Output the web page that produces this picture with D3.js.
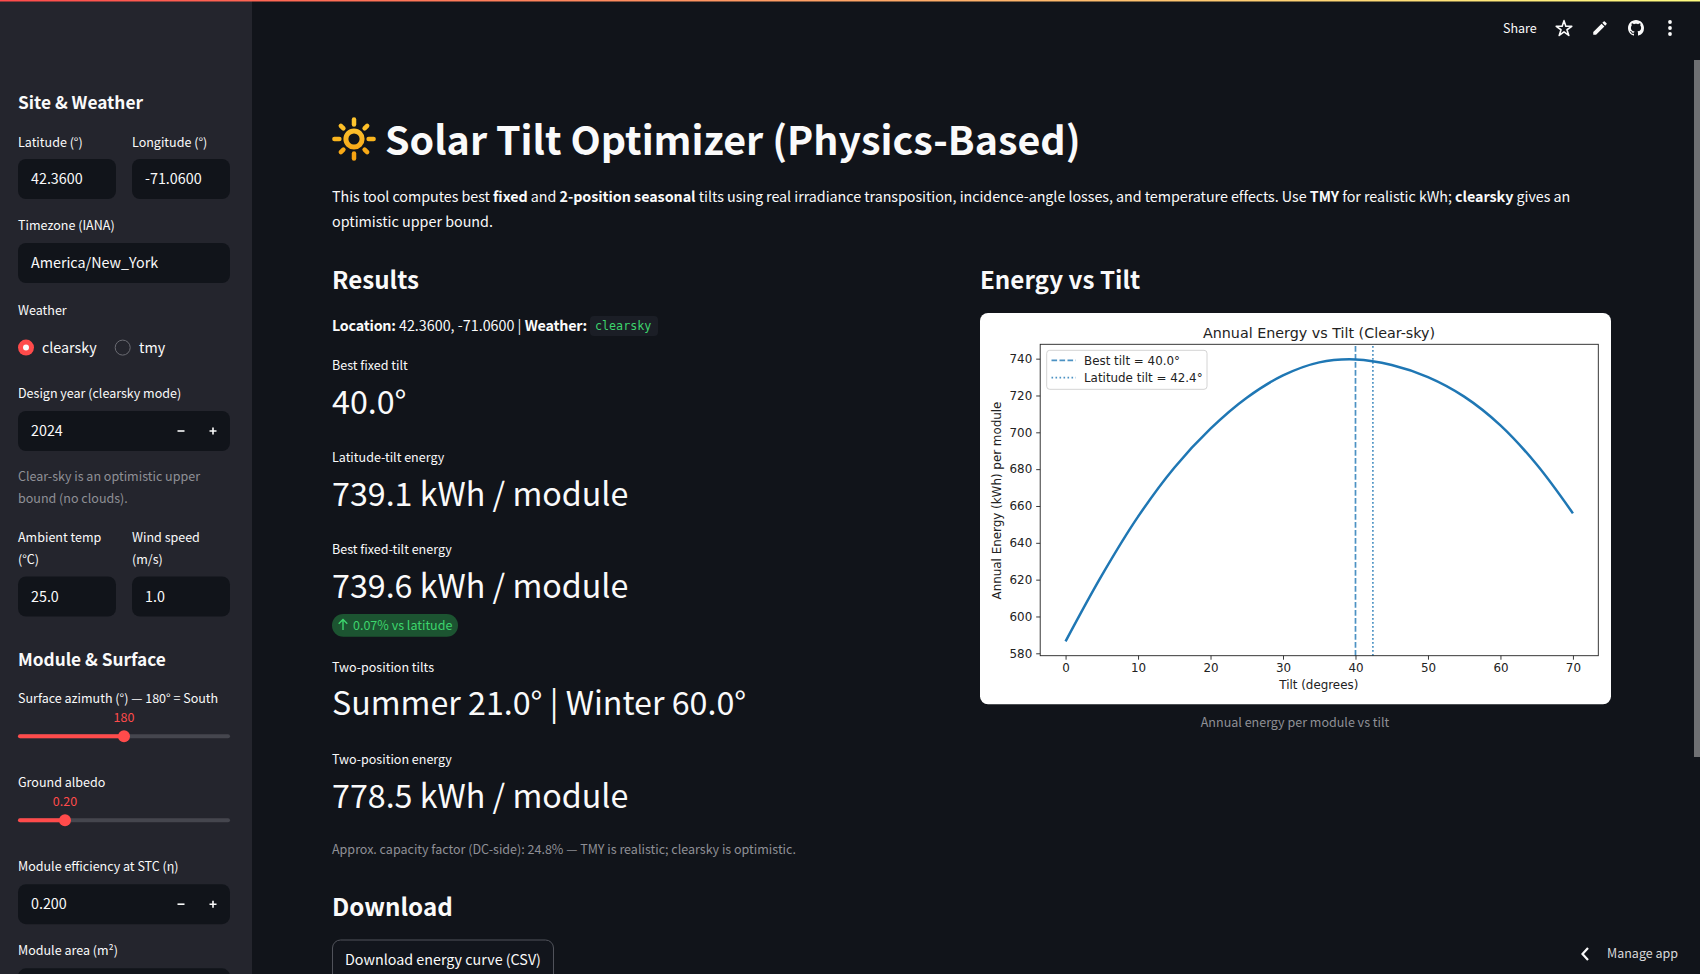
<!DOCTYPE html>
<html><head><meta charset="utf-8">
<script src="https://cdn.jsdelivr.net/npm/d3@7/dist/d3.min.js"></script>
<style>
html,body{margin:0;padding:0;background:#11141a;overflow:hidden}
svg{display:block}
text{white-space:pre}
</style></head><body>
<svg id="page" width="1700" height="974" xmlns="http://www.w3.org/2000/svg"></svg>
<script>
// ---- chart data ----
const tilts = [0,5,10,15,20,25,30,35,40,45,50,55,60,65,70];
const energies = [586.5,622.3,654.2,680.8,702.0,718.8,730.9,738.0,739.6,736.6,730.0,719.4,703.8,682.5,656.0];
const xTicks = [0,10,20,30,40,50,60,70];
const yTicks = [580,600,620,640,660,680,700,720,740];
const bestTilt = 40.0;
const latitudeTilt = 42.4;
const xDomain = [-3.5,73.5];
const yDomain = [578.7,747.8];
const chartTitle = "Annual Energy vs Tilt (Clear-sky)";
const xLabel = "Tilt (degrees)";
const yLabel = "Annual Energy (kWh) per module";
const legendLabels = ["Best tilt = 40.0°","Latitude tilt = 42.4°"];

// ---- page text ----
const appTitle = "Solar Tilt Optimizer (Physics-Based)";
const introLine1 = [["This tool computes best ",0],["fixed",1],[" and ",0],["2-position seasonal",1],[" tilts using real irradiance transposition, incidence-angle losses, and temperature effects. Use ",0],["TMY",1],[" for realistic kWh; ",0],["clearsky",1],[" gives an",0]];
const introLine2 = "optimistic upper bound.";
const locationLine = [["Location:",1],[" 42.3600, -71.0600 | ",0],["Weather:",1]];
const metricLabels = ["Best fixed tilt","Latitude-tilt energy","Best fixed-tilt energy","Two-position tilts","Two-position energy"];
const metricValues = ["40.0°","739.1 kWh / module","739.6 kWh / module","Summer 21.0° | Winter 60.0°","778.5 kWh / module"];
const deltaText = "0.07% vs latitude";
const captionText = "Approx. capacity factor (DC-side): 24.8% — TMY is realistic; clearsky is optimistic.";

const SANS = '"Noto Sans CJK SC","Noto Sans",sans-serif';
const MPL = '"DejaVu Sans",sans-serif';
const WHITE = "#fafafa", GREY = "#8f9096", RED = "#ff4b4b", INPUT = "#11141a";
const K = 0.895; // Noto CJK latin -> Source Sans metric ratio

const svg = d3.select("#page");
function T(g,x,y,s,o={}){
  const fs = o.ff ? (o.fs||14) : (o.fs||14)*K;
  const t = g.append("text").attr("x",x).attr("y",y)
    .attr("font-family",o.ff||SANS).attr("font-size",fs)
    .attr("font-weight",o.w||400).attr("fill",o.c||WHITE)
    .attr("text-anchor",o.a||"start");
  if(o.ls) t.attr("letter-spacing",o.ls);
  if(Array.isArray(s)) s.forEach(p=>{
    const sp=t.append("tspan").attr("font-weight",p[1]?700:400).text(p[0]);
    if(p[1]&&o.bls) sp.attr("letter-spacing",o.bls);
  });
  else t.text(s);
  return t;
}
function R(g,x,y,w,h,r,f,o={}){
  const e=g.append("rect").attr("x",x).attr("y",y).attr("width",w).attr("height",h).attr("rx",r).attr("fill",f);
  if(o.s) e.attr("stroke",o.s).attr("stroke-width",o.sw||1);
  return e;
}

// backgrounds
R(svg,0,0,1700,974,0,"#11141a");
R(svg,0,0,252,974,0,"#24252d");
const defs = svg.append("defs");
const lg = defs.append("linearGradient").attr("id","deco");
lg.append("stop").attr("offset","0%").attr("stop-color","#ff4b4b");
lg.append("stop").attr("offset","100%").attr("stop-color","#fffd80");
const sg = defs.append("linearGradient").attr("id","sunG").attr("gradientUnits","userSpaceOnUse")
  .attr("x1",0).attr("y1",-22).attr("x2",0).attr("y2",22);
sg.append("stop").attr("offset","0%").attr("stop-color","#ffcf3a");
sg.append("stop").attr("offset","100%").attr("stop-color","#f59a0a");
R(svg,0,0,1700,1.5,0,"url(#deco)");
R(svg,1694,60,6,697,0,"#6f7073");

// ---- sidebar ----
const side = svg.append("g");
function input(x,y,w,val,step){
  R(side,x,y,w,40,8,INPUT);
  T(side,x+13,y+25,val,{fs:16});
  if(step){
    side.append("path").attr("d",`M${x+159.5} ${y+20}h7`).attr("stroke",WHITE).attr("stroke-width",1.6);
    side.append("path").attr("d",`M${x+191.5} ${y+20}h7M${x+195} ${y+16.5}v7`).attr("stroke",WHITE).attr("stroke-width",1.6);
  }
}
function slider(cx,y,lab,labY){
  R(side,18,y-2,212,4,2,"#45464e");
  R(side,18,y-2,cx-18,4,2,RED);
  side.append("circle").attr("cx",cx).attr("cy",y).attr("r",6).attr("fill",RED);
  T(side,cx,labY,lab,{c:RED,a:"middle"});
}
const H3 = 19.3, H2 = 27;
T(side,18,109,"Site & Weather",{fs:H3,w:700});
T(side,18,146.8,"Latitude (°)");
T(side,132,146.8,"Longitude (°)");
input(18,159,98,"42.3600");
input(132,159,98,"-71.0600");
T(side,18,230.3,"Timezone (IANA)");
input(18,243,212,"America/New_York");
T(side,18,314.7,"Weather");
side.append("circle").attr("cx",26).attr("cy",347.6).attr("r",8).attr("fill",RED);
side.append("circle").attr("cx",26).attr("cy",347.6).attr("r",3).attr("fill",WHITE);
T(side,42,352.6,"clearsky",{fs:16});
side.append("circle").attr("cx",122.7).attr("cy",347.6).attr("r",7.5).attr("fill","none").attr("stroke","#6a6b72").attr("stroke-width",1);
T(side,139,352.6,"tmy",{fs:16});
T(side,18,398.2,"Design year (clearsky mode)");
input(18,411,212,"2024",true);
T(side,18,481.2,"Clear-sky is an optimistic upper",{c:GREY});
T(side,18,503.2,"bound (no clouds).",{c:GREY});
T(side,18,542.2,"Ambient temp");
T(side,18,564.2,"(°C)");
T(side,132,542.2,"Wind speed");
T(side,132,564.2,"(m/s)");
input(18,576.5,98,"25.0");
input(132,576.5,98,"1.0");
T(side,18,666,"Module & Surface",{fs:H3,w:700});
T(side,18,703.2,"Surface azimuth (°) — 180° = South");
slider(124,736.2,"180",722);
T(side,18,787.2,"Ground albedo");
slider(65,820.2,"0.20",806);
T(side,18,871.2,"Module efficiency at STC (η)");
input(18,884.2,212,"0.200",true);
T(side,18,955.2,"Module area (m²)");
R(side,18,968.3,212,40,8,INPUT);

// ---- header ----
const head = svg.append("g");
T(head,1503,32.8,"Share");
head.append("path").attr("transform","translate(1564,28.8)").attr("d",d3.symbol(d3.symbolStar,75)())
  .attr("fill","none").attr("stroke",WHITE).attr("stroke-width",1.6).attr("stroke-linejoin","round");
head.append("path").attr("transform","translate(1591,19) scale(.75)")
  .attr("d","M3 17.25V21h3.75L17.81 9.94l-3.75-3.75L3 17.25zM20.71 7.04a1 1 0 000-1.41l-2.34-2.34a1 1 0 00-1.41 0l-1.83 1.83 3.75 3.75 1.83-1.83z").attr("fill",WHITE);
head.append("path").attr("transform","translate(1628,20)")
  .attr("d","M8 0C3.58 0 0 3.58 0 8c0 3.54 2.29 6.53 5.47 7.59.4.07.55-.17.55-.38 0-.19-.01-.82-.01-1.49-2.01.37-2.53-.49-2.69-.94-.09-.23-.48-.94-.82-1.13-.28-.15-.68-.52-.01-.53.63-.01 1.08.58 1.23.82.72 1.21 1.87.87 2.33.66.07-.52.28-.87.51-1.07-1.78-.2-3.64-.89-3.64-3.95 0-.87.31-1.59.82-2.15-.08-.2-.36-1.02.08-2.12 0 0 .67-.21 2.2.82.64-.18 1.32-.27 2-.27.68 0 1.36.09 2 .27 1.53-1.04 2.2-.82 2.2-.82.44 1.1.16 1.92.08 2.12.51.56.82 1.27.82 2.15 0 3.07-1.87 3.75-3.65 3.95.29.25.54.73.54 1.48 0 1.07-.01 1.93-.01 2.2 0 .21.15.46.55.38A8.013 8.013 0 0016 8c0-4.42-3.58-8-8-8z").attr("fill",WHITE);
[22,28,34].forEach(y=>head.append("circle").attr("cx",1670).attr("cy",y).attr("r",1.9).attr("fill",WHITE));
head.append("path").attr("d","M1588 948l-5.5 6 5.5 6").attr("fill","none").attr("stroke",WHITE).attr("stroke-width",2.2);
T(head,1607,957.5,"Manage app",{c:"#d8d8da"});

// ---- main column ----
const mainG = svg.append("g");
// sun emoji drawn as shapes
const sun = mainG.append("g").attr("transform","translate(354,139)");
d3.range(8).forEach(i=>{
  const a=i*Math.PI/4, c=Math.cos(a), s=Math.sin(a);
  const r0=i%2?15:14.6, r1=i%2?18.6:19.6;
  sun.append("path").attr("d",`M${r0*c} ${r0*s}L${r1*c} ${r1*s}`)
    .attr("stroke","url(#sunG)").attr("stroke-width",4.5).attr("stroke-linecap","round")
    .attr("fill","none");
  // a horizontal/vertical path has an empty bounding box; use plain colour there
  sun.select("path:last-child").attr("stroke",i%4===2?(i===2?"#f7a312":"#ffc52e"):(i%4===0?"#fab51e":(s>0?"#f8a916":"#fdbf28")));
});
sun.append("circle").attr("r",8.1).attr("fill","none").attr("stroke","url(#sunG)").attr("stroke-width",5);

T(mainG,385,155.4,appTitle,{fs:44,w:700});
T(mainG,332,201.7,introLine1,{fs:16,ls:-0.045});
T(mainG,332,226.7,introLine2,{fs:16});
T(mainG,332,288.5,"Results",{fs:H2,w:700});
T(mainG,980,288.5,"Energy vs Tilt",{fs:H2,w:700});
T(mainG,332,330.7,locationLine,{fs:16,bls:-0.22});
R(mainG,590,316,68,20,4,"#1b1e26");
T(mainG,595,330.3,"clearsky",{ff:'"DejaVu Sans Mono",monospace',fs:11.7,c:"#3dd56d"});

const labelY=[370,462,554,672,764.2], valueY=[413.6,505.5,597.5,715,807.5];
metricLabels.forEach((l,i)=>{
  T(mainG,332,labelY[i],l);
  T(mainG,332,valueY[i],metricValues[i],{fs:36});
});
R(mainG,332,614,126,22.7,11.3,"#1c5431");
mainG.append("path").attr("d","M343 630v-10.5M338.7 623.7l4.3-4.3 4.3 4.3").attr("fill","none").attr("stroke","#3dd56d").attr("stroke-width",1.4);
T(mainG,353,629.6,deltaText,{c:"#3dd56d"});
T(mainG,332,854.2,captionText,{c:GREY});
T(mainG,332,916,"Download",{fs:H2,w:700});
R(mainG,332.5,940,221,50,8,"#12151c",{s:"#50525a"});
T(mainG,345,965.4,"Download energy curve (CSV)",{fs:16});

// ---- chart card ----
R(mainG,980,313,631,391.3,8,"#ffffff");
T(mainG,1295,727.4,"Annual energy per module vs tilt",{c:GREY,a:"middle"});

const pL=1040.2,pR=1598.3,pT=344.3,pB=655.7;
const x=d3.scaleLinear().domain(xDomain).range([pL,pR]);
const y=d3.scaleLinear().domain(yDomain).range([pB,pT]);
const chart=svg.append("g");

chart.append("path").datum(d3.range(tilts.length))
  .attr("fill","none").attr("stroke","#1f77b4").attr("stroke-width",2.5)
  .attr("d",d3.line().x(i=>x(tilts[i])).y(i=>y(energies[i])).curve(d3.curveCatmullRom.alpha(0.5)));
chart.append("line").attr("x1",x(bestTilt)).attr("x2",x(bestTilt)).attr("y1",pB).attr("y2",pT)
  .attr("stroke","#1f77b4").attr("stroke-opacity",.8).attr("stroke-width",1.7).attr("stroke-dasharray","5.6 2.4");
chart.append("line").attr("x1",x(latitudeTilt)).attr("x2",x(latitudeTilt)).attr("y1",pB).attr("y2",pT)
  .attr("stroke","#1f77b4").attr("stroke-opacity",.8).attr("stroke-width",1.7).attr("stroke-dasharray","1.6 2.4");

const gx=chart.append("g").attr("transform",`translate(0,${pB})`)
  .call(d3.axisBottom(x).tickValues(xTicks).tickSize(4).tickPadding(4).tickFormat(d3.format("d")));
const gy=chart.append("g").attr("transform",`translate(${pL},0)`)
  .call(d3.axisLeft(y).tickValues(yTicks).tickSize(4).tickPadding(4).tickFormat(d3.format("d")));
[gx,gy].forEach(g=>{
  g.select(".domain").remove();
  g.selectAll("line").attr("stroke","#222").attr("stroke-width",.9);
  g.selectAll("text").attr("font-family",MPL).attr("font-size",11.9).attr("fill","#222");
});
chart.append("rect").attr("x",pL).attr("y",pT).attr("width",pR-pL).attr("height",pB-pT)
  .attr("fill","none").attr("stroke","#222").attr("stroke-width",.9);
T(chart,1319,337.7,chartTitle,{ff:MPL,fs:14.3,c:"#222",a:"middle"});
T(chart,1318.8,689.3,xLabel,{ff:MPL,fs:11.9,c:"#222",a:"middle"});
T(chart,0,0,yLabel,{ff:MPL,fs:11.9,c:"#222",a:"middle"}).attr("transform","translate(1001,500.5) rotate(-90)");

// legend
const lgG=chart.append("g");
R(lgG,1046.7,350.3,160.3,39,3,"#fff",{s:"#d4d4d4"});
[[360.3,"5.6 2.4",365],[377.7,"1.6 2.4",382.3]].forEach((r,i)=>{
  lgG.append("line").attr("x1",1051.5).attr("x2",1075.8).attr("y1",r[0]).attr("y2",r[0])
    .attr("stroke","#1f77b4").attr("stroke-opacity",.8).attr("stroke-width",1.7).attr("stroke-dasharray",r[1]);
  T(lgG,1084,r[2],legendLabels[i],{ff:MPL,fs:11.9,c:"#222"});
});
</script>
</body></html>
